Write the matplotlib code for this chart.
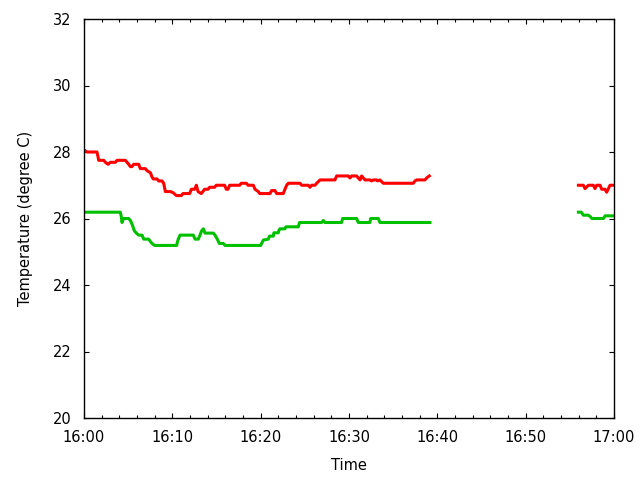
import numpy as np
import matplotlib
matplotlib.use("Agg")
import matplotlib.pyplot as plt

# minutes after 16:00, temperature in degree C (NaN = no data)
t_red = [0, 0.34, 1.47, 1.6, 1.66, 2.23, 2.42, 2.72, 2.98, 3.55, 3.74, 4.68, 4.87, 5.06,
         5.25, 5.43, 5.62, 6.19, 6.38, 6.94, 7.13, 7.51, 7.70, 7.85, 8.26, 8.45, 8.83, 9.02,
         9.21, 9.77, 10.08, 10.45, 11.02, 11.21, 11.96, 12.15, 12.53, 12.72, 12.91, 13.28,
         13.66, 14.04, 14.23, 14.79, 14.98, 15.92, 16.11, 16.3, 16.49, 17.62, 17.81, 18.38,
         18.57, 19.17, 19.36, 19.73, 19.9, 21.05, 21.24, 21.62, 21.81, 22.56, 22.75, 22.94,
         23.13, 24.45, 24.64, 25.39, 25.58, 25.77, 26.15, 26.34, 26.72, 28.41, 28.6, 29.92,
         30.11, 30.30, 30.86, 31.05, 31.25, 31.43, 31.62, 31.81, 32.37, 32.56, 32.75, 33.13,
         33.24, 33.5, 33.88, 37.28, 37.47, 37.66, 38.6, 38.79, 39.09,
         47.0,
         55.97, 56.53, 56.72, 57.1, 57.66, 57.85, 58.04, 58.42, 58.61, 58.98, 59.17, 59.55, 60]
temp_red = [28.06, 28.0, 28.0, 27.84, 27.75, 27.75, 27.69, 27.63, 27.69, 27.69, 27.75, 27.75,
            27.69, 27.63, 27.56, 27.56, 27.63, 27.63, 27.5, 27.5, 27.44, 27.38, 27.25, 27.19,
            27.19, 27.13, 27.13, 27.06, 26.81, 26.81, 26.78, 26.69, 26.69, 26.75, 26.75, 26.88,
            26.88, 27.0, 26.81, 26.75, 26.88, 26.88, 26.94, 26.94, 27.0, 27.0, 26.88, 26.88,
            27.0, 27.0, 27.06, 27.06, 27.0, 27.0, 26.88, 26.81, 26.75, 26.75, 26.84, 26.84,
            26.75, 26.75, 26.88, 27.0, 27.06, 27.06, 27.0, 27.0, 26.94, 27.0, 27.0, 27.06,
            27.16, 27.16, 27.28, 27.28, 27.22, 27.28, 27.28, 27.22, 27.16, 27.28, 27.22, 27.16,
            27.16, 27.13, 27.16, 27.16, 27.13, 27.16, 27.06, 27.06, 27.13, 27.16, 27.16, 27.22,
            27.28,
            np.nan,
            27.0, 27.0, 26.9, 27.0, 27.0, 26.9, 27.0, 27.0, 26.88, 26.88, 26.79, 27.0, 27.0]

t_green = [0, 4.11, 4.22, 4.30, 4.49, 5.06, 5.25, 5.36, 5.55, 5.7, 5.93, 6.19, 6.57, 6.76,
           7.32, 7.51, 7.7, 8.0, 10.49, 10.58, 10.68, 10.87, 12.38, 12.57, 12.94, 13.13, 13.32,
           13.51, 13.7, 14.64, 14.83, 15.09, 15.32, 15.77, 15.96, 20.0, 20.11, 20.3, 20.86,
           21.0, 21.43, 21.5, 21.99, 22.05, 22.18, 22.75, 22.86, 24.26, 24.4, 26.9, 27.09,
           27.28, 29.16, 29.28, 30.86, 31.05, 32.37, 32.45, 33.32, 33.5, 39.16,
           47.0,
           55.97, 56.3, 56.53, 57.1, 57.3, 57.5, 58.8, 59.0, 60]
temp_green = [26.19, 26.19, 26.06, 25.88, 26.0, 26.0, 25.94, 25.88, 25.75, 25.63, 25.56, 25.5,
              25.5, 25.38, 25.38, 25.31, 25.25, 25.19, 25.19, 25.3, 25.38, 25.5, 25.5, 25.38,
              25.38, 25.5, 25.63, 25.69, 25.56, 25.56, 25.5, 25.38, 25.25, 25.25, 25.19, 25.19,
              25.25, 25.35, 25.38, 25.47, 25.47, 25.57, 25.57, 25.63, 25.69, 25.69, 25.75, 25.75,
              25.88, 25.88, 25.94, 25.88, 25.88, 26.0, 26.0, 25.88, 25.88, 26.0, 26.0, 25.88,
              25.88,
              np.nan,
              26.19, 26.19, 26.1, 26.1, 26.06, 26.0, 26.0, 26.08, 26.08]

x_ticks = [0, 10, 20, 30, 40, 50, 60]
x_labels = ["16:00", "16:10", "16:20", "16:30", "16:40", "16:50", "17:00"]
y_ticks = [20, 22, 24, 26, 28, 30, 32]

plt.rcParams['font.family'] = ['DejaVu Sans']
plt.rcParams['font.size'] = 10.5

fig = plt.figure(figsize=(6.4, 4.8), dpi=100)
ax = fig.add_axes([84 / 640, 62 / 480, 530 / 640, 399 / 480])

ax.plot(t_red, temp_red, color='#ff0000', lw=2.2)
ax.plot(t_green, temp_green, color='#00c000', lw=2.2)

ax.set_xlim(0, 60)
ax.set_ylim(20, 32)
ax.set_xticks(x_ticks)
ax.set_xticklabels(x_labels)
ax.set_xticks(np.arange(0, 61, 2), minor=True)
ax.set_yticks(y_ticks)
ax.tick_params(direction='in', top=True, right=True, length=3.8, width=0.8, colors='black')
ax.tick_params(which='minor', direction='in', top=True, bottom=True, length=2.2, width=0.8)
ax.tick_params(axis='x', pad=9)
ax.tick_params(axis='y', pad=9)
for s in ax.spines.values():
    s.set_linewidth(1.0)

ax.set_xlabel('Time', labelpad=9)
ax.set_ylabel('Temperature (degree C)', labelpad=14)

fig.savefig('out.png', dpi=100)
